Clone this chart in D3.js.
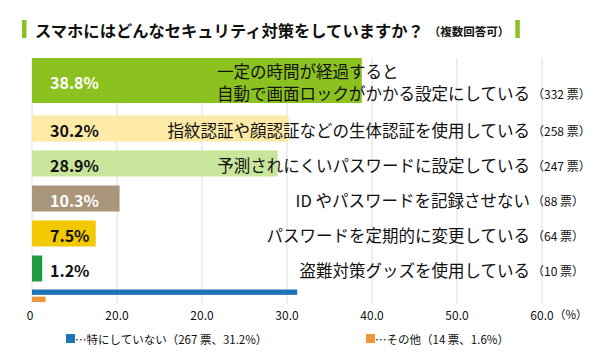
<!DOCTYPE html>
<html><head><meta charset="utf-8">
<script src="https://cdn.jsdelivr.net/npm/d3@7"></script>
<style>
html,body{margin:0;padding:0;background:#fff;}
svg{display:block;}
text{font-family:"Noto Sans CJK JP","Noto Sans",sans-serif;}
</style></head>
<body>
<svg id="chart" width="615" height="360"></svg>
<script>
const title = "スマホにはどんなセキュリティ対策をしていますか？";
const subtitle = "（複数回答可）";
const categories = [
  "一定の時間が経過すると\n自動で画面ロックがかかる設定にしている",
  "指紋認証や顔認証などの生体認証を使用している",
  "予測されにくいパスワードに設定している",
  "ID やパスワードを記録させない",
  "パスワードを定期的に変更している",
  "盗難対策グッズを使用している"
];
const percents = [38.8, 30.2, 28.9, 10.3, 7.5, 1.2];
const votes = [332, 258, 247, 88, 64, 10];
const otherLabels = ["特にしていない", "その他"];
const otherPercents = [31.2, 1.6];
const otherVotes = [267, 14];
const tickValues = [0, 10, 20, 30, 40, 50, 60];
const tickLabels = ["0", "20.0", "20.0", "30.0", "40.0", "50.0", "60.0"];

// styles
const barColors = ["#8cc21f", "#fdeaa6", "#c9e59c", "#a8957a", "#f2c800", "#1f9a3c"];
const valueColors = ["#fff", "#111", "#111", "#fff", "#111", "#111"];
const otherColors = ["#1f73b7", "#f0963a"];
const green = "#8cc21f";

const svg = d3.select("#chart");
const x = d3.scaleLinear().domain([0, 60]).range([32, 542]);
const y = d3.scaleBand().domain(d3.range(categories.length)).range([76, 286])
  .paddingInner(0.257).paddingOuter(0.1285);
const bw = y.bandwidth();
const lineGap = 22.5;

// gridlines
svg.append("g").selectAll("line").data(tickValues).join("line")
  .attr("x1", d => x(d)).attr("x2", d => x(d))
  .attr("y1", 58).attr("y2", 303)
  .attr("stroke", "#dcdcdc").attr("stroke-width", 1);

// title
svg.append("rect").attr("x", 22).attr("y", 20).attr("width", 4.5).attr("height", 18).attr("fill", green);
const tt = svg.append("text").attr("x", 35).attr("y", 30).attr("dominant-baseline", "central")
  .attr("font-size", 16.3).attr("font-weight", 700).attr("fill", "#111").text(title);
const tw = tt.node().getComputedTextLength();
const st = svg.append("text").attr("x", 35 + tw + 5).attr("y", 31).attr("dominant-baseline", "central")
  .attr("font-size", 11.5).attr("font-weight", 700).attr("fill", "#111").text(subtitle);
const sw = st.node().getComputedTextLength();
svg.append("rect").attr("x", 35 + tw + 5 + sw + 6).attr("y", 20).attr("width", 4.5).attr("height", 18).attr("fill", green);

// bars
const rows = categories.map((c, i) => ({c, p: percents[i], v: votes[i], i, lines: c.split("\n")}));
const g = svg.append("g");
rows.forEach(d => {
  const extra = (d.lines.length - 1) * lineGap;
  const top = y(d.i) - extra;
  const h = bw + extra - (d.lines.length - 1) * 3.5;
  const cy = top + h / 2;
  g.append("rect").attr("x", x(0)).attr("y", top).attr("width", x(d.p) - x(0)).attr("height", h)
    .attr("fill", barColors[d.i]);
  g.append("text").attr("x", 50).attr("y", cy + 1).attr("dominant-baseline", "central")
    .attr("font-family", "'Open Sans','Noto Sans',sans-serif")
    .attr("font-size", 16).attr("font-weight", 700).attr("fill", valueColors[d.i])
    .text(d.p.toFixed(1) + "%");
  // category label
  const n = d.lines.length;
  const lastLine = g.append("text").attr("x", 530).attr("y", cy + (n - 1) * 10.5 + 1.5)
    .attr("text-anchor", "end").attr("dominant-baseline", "central")
    .attr("font-size", 16.5).attr("fill", "#111").text(d.lines[n - 1]);
  if (n > 1) {
    const lw = lastLine.node().getComputedTextLength();
    d.lines.slice(0, n - 1).forEach((ln, k) => {
      g.append("text").attr("x", 530 - lw).attr("y", cy - (n - 1 - k) * 21 + (n - 1) * 10.5 + 0.5)
        .attr("dominant-baseline", "central")
        .attr("font-size", 16.5).attr("fill", "#111").text(ln);
    });
  }
  g.append("text").attr("x", 532).attr("y", cy + (n - 1) * 10.5 + 2).attr("dominant-baseline", "central")
    .attr("font-size", 12).attr("fill", "#111").text("（" + d.v + " 票）");
});

// other bars
const oy = d3.scaleBand().domain(d3.range(otherLabels.length)).range([289.5, 302]).paddingInner(0.25);
otherLabels.forEach((l, i) => {
  svg.append("rect").attr("x", x(0)).attr("y", oy(i)).attr("width", x(otherPercents[i]) - x(0))
    .attr("height", oy.bandwidth()).attr("fill", otherColors[i]);
});

// axis labels
svg.append("g").selectAll("text").data(tickValues).join("text")
  .attr("x", (d, i) => i === 0 ? x(d) - 2 : x(d))
  .attr("y", 314).attr("text-anchor", "middle").attr("dominant-baseline", "central")
  .attr("font-family", "'Noto Sans',sans-serif").attr("font-size", 12).attr("fill", "#111")
  .text((d, i) => tickLabels[i]);
svg.append("text").attr("x", x(60) + 12).attr("y", 314).attr("dominant-baseline", "central")
  .attr("font-size", 11.5).attr("fill", "#111").text("（%）");

// legend
const legX = [66, 366];
otherLabels.forEach((l, i) => {
  svg.append("rect").attr("x", legX[i]).attr("y", 334).attr("width", 9).attr("height", 9).attr("fill", otherColors[i]);
  svg.append("text").attr("x", legX[i] + 9).attr("y", 339).attr("dominant-baseline", "central")
    .attr("font-size", 11.5).attr("fill", "#111")
    .text("…" + l + "（" + otherVotes[i] + " 票、" + otherPercents[i].toFixed(1) + "%）");
});
</script>
</body></html>
